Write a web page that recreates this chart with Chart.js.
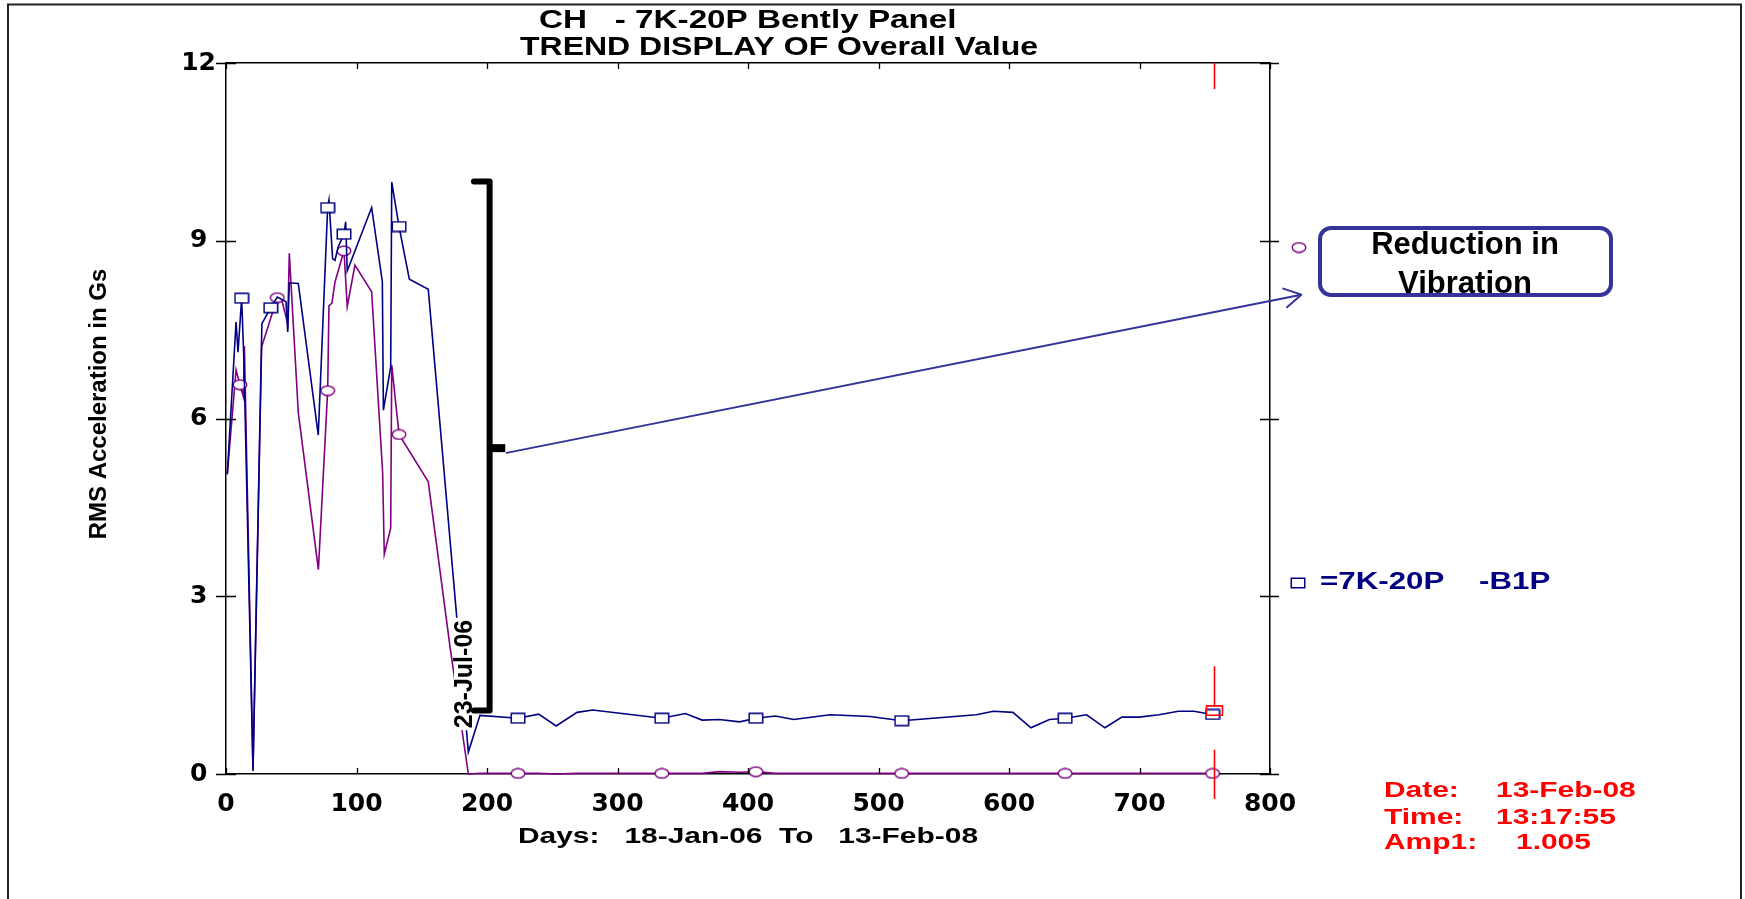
<!DOCTYPE html>
<html>
<head>
<meta charset="utf-8">
<title>CH - 7K-20P Bently Panel</title>
<script src="https://cdn.jsdelivr.net/npm/chart.js@4.4.1/dist/chart.umd.min.js"></script>
<style>
html, body { margin: 0; padding: 0; background: #fff; overflow: hidden; }
canvas { display: block; }
</style>
</head>
<body>
<canvas id="trend" width="1745" height="899"></canvas>
<script>
// valores (dias desde 18-Jan-06, aceleracion RMS en G)
var navyDays = [1, 7.7, 9.2, 12, 13.8, 20.7, 27.5, 34.3, 39.3, 46, 47.3, 48.5, 55.4, 70.7, 77.9,
    78.9, 81.7, 83.5, 86, 90.4, 91.7, 92.9, 111.6, 119.8, 120.6, 126.2, 127, 132.6, 140.5, 155,
    177, 185.7, 194.6, 223.8, 239.6, 253, 269, 281, 334, 352, 364.8, 378, 393.6, 406, 421,
    435, 463, 493.6, 517.8, 575, 588, 603, 616.8, 631, 643, 659.5, 673.5, 686.5, 699.7, 715,
    729.8, 741.7, 756];
var navyVals = [5.06, 7.63, 7.12, 8.03, 6.93, 0.05, 7.6, 7.87, 8.05, 7.97, 7.46, 8.29, 8.28, 5.72, 9.56,
    9.69, 8.70, 8.67, 8.9, 9.11, 9.32, 8.49, 9.56, 8.31, 6.14, 6.87, 9.99, 9.24, 8.35, 8.18,
    2.6, 0.37, 0.99, 0.94, 1.01, 0.81, 1.04, 1.08, 0.94, 1.02, 0.91, 0.92, 0.88, 0.94, 0.98,
    0.92, 1.0, 0.97, 0.90, 1.0, 1.06, 1.04, 0.78, 0.92, 0.94, 1.0, 0.78, 0.96, 0.96, 1.0,
    1.06, 1.06, 1.005];
var navyMarks = [12, 34.3, 77.9, 90.4, 132.6, 223.8, 334, 406, 517.8, 643, 756];

var purpleDays = [1, 7.7, 10.7, 13.3, 14.1, 20.7, 27.3, 39.3, 43, 47.3, 48.5, 55.4, 70.8, 77.9, 78.9,
    81.2, 83.5, 90.4, 92.9, 98.8, 111.6, 120, 121.3, 126.2, 127, 132.6, 155, 171.7, 185.7, 194.6,
    223.8, 239.6, 253, 269, 281, 334, 352, 364.8, 378, 393.6, 406, 421, 435, 463, 493.6,
    517.8, 575, 588, 603, 616.8, 631, 643, 659.5, 673.5, 686.5, 699.7, 715, 729.8, 741.7, 756];
var purpleVals = [5.06, 6.82, 6.57, 6.37, 7.22, 0.07, 7.21, 8.04, 7.98, 7.6, 8.79, 6.1, 3.45, 6.47, 7.9,
    7.95, 8.3, 8.83, 7.89, 8.59, 8.14, 5.1, 3.71, 4.15, 6.9, 5.73, 4.93, 2.14, 0.0, 0.01,
    0.01, 0.01, 0.0, 0.01, 0.01, 0.01, 0.01, 0.01, 0.04, 0.03, 0.04, 0.01, 0.01, 0.01, 0.01,
    0.01, 0.01, 0.01, 0.01, 0.01, 0.01, 0.01, 0.01, 0.01, 0.01, 0.01, 0.01, 0.01, 0.01, 0.01];
var purpleMarks = [10.7, 39.3, 77.9, 90.4, 132.6, 223.8, 334, 406, 517.8, 643, 756];

var dayTicks = [0, 100, 200, 300, 400, 500, 600, 700, 800];
var ampTicks = [0, 3, 6, 9, 12];

var titleLines = ['CH   - 7K-20P Bently Panel', 'TREND DISPLAY OF Overall Value'];
var xTitle = 'Days:   18-Jan-06  To   13-Feb-08';
var yTitle = 'RMS Acceleration in Gs';
var legendText = '=7K-20P    -B1P';
var eventLabel = '23-Jul-06';
var cursorDay = 757;
var cursorInfo = [['Date:', '13-Feb-08'], ['Time:', '13:17:55'], ['Amp1:', '1.005']];

var NAVY = '#000080', PURPLE = '#800080', ARROW = '#333399';
var ARIAL = '"Liberation Sans", Arial, sans-serif';
var WIDE = 'DejaVu Sans';

// marcadores huecos (el original los dibuja algo anchos)
function squareMark(color) {
    var c = document.createElement('canvas');
    c.width = 16; c.height = 12;
    var g = c.getContext('2d');
    g.fillStyle = '#fff'; g.fillRect(1, 1, 14, 10);
    g.strokeStyle = color; g.lineWidth = 1.5; g.strokeRect(1.25, 1.25, 13.5, 9.5);
    return c;
}
function circleMark(color) {
    var c = document.createElement('canvas');
    c.width = 16; c.height = 12;
    var g = c.getContext('2d');
    g.beginPath(); g.ellipse(8, 6, 6.8, 4.8, 0, 0, Math.PI * 2);
    g.fillStyle = '#fff'; g.fill();
    g.strokeStyle = color; g.lineWidth = 1.4; g.stroke();
    return c;
}
var sq = squareMark(NAVY), circ = circleMark(PURPLE);

function pts(days, vals) {
    return days.map(function (d, i) { return { x: d, y: vals[i] }; });
}

// texto ensanchado horizontalmente
function wideText(ctx, str, x, y, size, color, sx, align) {
    ctx.save();
    ctx.font = 'bold ' + size + 'px ' + ARIAL;
    ctx.fillStyle = color;
    ctx.textBaseline = 'middle';
    ctx.textAlign = align || 'left';
    ctx.translate(x, y);
    ctx.scale(sx, 1);
    ctx.fillText(str, 0, 0);
    ctx.restore();
}

var tickMarks = {
    id: 'tickMarks',
    afterDraw: function (chart) {
        var ctx = chart.ctx, a = chart.chartArea, s = chart.scales;
        ctx.save();
        ctx.strokeStyle = '#000';
        ctx.lineWidth = 1.3;
        ctx.beginPath();
        s.y.ticks.forEach(function (t) {
            var py = Math.round(s.y.getPixelForValue(t.value)) + 0.5;
            ctx.moveTo(a.left - 10, py); ctx.lineTo(a.left + 10, py);
            ctx.moveTo(a.right - 10, py); ctx.lineTo(a.right + 9, py);
        });
        s.x.ticks.forEach(function (t) {
            var px = Math.round(s.x.getPixelForValue(t.value)) + 0.5;
            ctx.moveTo(px, a.bottom); ctx.lineTo(px, a.bottom - 6);
            ctx.moveTo(px, a.top); ctx.lineTo(px, a.top + 6);
        });
        ctx.stroke();
        ctx.restore();
    }
};

var notes = {
    id: 'notes',
    afterDatasetsDraw: function (chart) {
        var ctx = chart.ctx, sx = chart.scales.x, sy = chart.scales.y;
        function X(d) { return sx.getPixelForValue(d); }
        function Y(v) { return sy.getPixelForValue(v); }

        ctx.save();

        // etiqueta girada con fondo blanco
        ctx.save();
        ctx.translate(464, 674);
        ctx.rotate(-Math.PI / 2);
        ctx.font = 'bold 25px ' + ARIAL;
        var w = ctx.measureText(eventLabel).width;
        ctx.fillStyle = '#fff';
        ctx.fillRect(-w / 2 - 2, -10, w + 4, 20);
        ctx.fillStyle = '#000';
        ctx.textAlign = 'center';
        ctx.textBaseline = 'middle';
        ctx.fillText(eventLabel, 0, 1);
        ctx.restore();

        // corchete
        var xb = X(202), xl = X(190), top = Y(10.0), bot = Y(1.07), ym = Y(5.5);
        ctx.strokeStyle = '#000';
        ctx.lineJoin = 'round';
        ctx.lineCap = 'round';
        ctx.lineWidth = 6;
        ctx.beginPath();
        ctx.moveTo(xl, top); ctx.lineTo(xb, top); ctx.lineTo(xb, bot); ctx.lineTo(xl, bot);
        ctx.stroke();
        ctx.lineWidth = 8;
        ctx.lineCap = 'butt';
        ctx.beginPath();
        ctx.moveTo(xb, ym); ctx.lineTo(X(214), ym);
        ctx.stroke();

        // flecha
        var x1 = X(215), y1 = Y(5.42), x2 = X(824), y2 = Y(8.09);
        var ang = Math.atan2(y2 - y1, x2 - x1), L = 19, phi = 0.52;
        ctx.strokeStyle = ARROW;
        ctx.lineWidth = 2;
        ctx.lineCap = 'round';
        ctx.beginPath();
        ctx.moveTo(x1, y1); ctx.lineTo(x2, y2);
        ctx.moveTo(x2 - L * Math.cos(ang - phi), y2 - L * Math.sin(ang - phi));
        ctx.lineTo(x2, y2);
        ctx.lineTo(x2 - L * Math.cos(ang + phi), y2 - L * Math.sin(ang + phi));
        ctx.stroke();

        // cursor rojo
        var cx = Math.round(X(cursorDay)) + 0.5;
        ctx.strokeStyle = '#ff0000';
        ctx.lineWidth = 1.6;
        ctx.lineCap = 'butt';
        ctx.beginPath();
        ctx.moveTo(cx, Y(12)); ctx.lineTo(cx, Y(11.56));
        ctx.moveTo(cx, Y(1.82)); ctx.lineTo(cx, Y(1.14));
        ctx.moveTo(cx, Y(0.41)); ctx.lineTo(cx, Y(-0.42));
        ctx.stroke();
        ctx.strokeRect(cx - 8, Y(1.07) - 4.7, 16, 9.4);

        ctx.restore();
    },
    afterDraw: function (chart) {
        var ctx = chart.ctx;
        ctx.save();

        // marco exterior
        ctx.strokeStyle = '#222';
        ctx.lineWidth = 2;
        ctx.strokeRect(8, 4.5, 1733, 1000);

        // titulos
        wideText(ctx, titleLines[0], 539, 21, 25, '#000', 1.33);
        wideText(ctx, titleLines[1], 520, 48, 25, '#000', 1.28);
        wideText(ctx, xTitle, 748, 837, 22, '#000', 1.36, 'center');

        // titulo eje Y
        ctx.save();
        ctx.translate(99, 404);
        ctx.rotate(-Math.PI / 2);
        ctx.font = 'bold 24px ' + ARIAL;
        ctx.fillStyle = '#000';
        ctx.textAlign = 'center';
        ctx.textBaseline = 'middle';
        ctx.fillText(yTitle, 0, 0);
        ctx.restore();

        // leyenda
        ctx.drawImage(circ, 1299 - circ.width / 2, 247.5 - circ.height / 2);
        ctx.drawImage(sq, 1298 - sq.width / 2, 583 - sq.height / 2);
        wideText(ctx, legendText, 1320, 583, 23, NAVY, 1.36);

        // recuadro "Reduction in Vibration"
        var bx = 1320, by = 228, bw = 291, bh = 67, r = 11;
        ctx.beginPath();
        ctx.moveTo(bx + r, by);
        ctx.arcTo(bx + bw, by, bx + bw, by + bh, r);
        ctx.arcTo(bx + bw, by + bh, bx, by + bh, r);
        ctx.arcTo(bx, by + bh, bx, by, r);
        ctx.arcTo(bx, by, bx + bw, by, r);
        ctx.closePath();
        ctx.fillStyle = '#fff';
        ctx.fill();
        ctx.strokeStyle = ARROW;
        ctx.lineWidth = 4;
        ctx.stroke();
        ctx.font = 'bold 31px ' + ARIAL;
        ctx.fillStyle = '#000';
        ctx.textAlign = 'center';
        ctx.textBaseline = 'alphabetic';
        ctx.fillText('Reduction in', 1465, 254);
        ctx.fillText('Vibration', 1465, 293);

        // datos del cursor
        var rows = [791, 818, 843];
        var valX = [1496, 1496, 1516];
        cursorInfo.forEach(function (row, i) {
            wideText(ctx, row[0], 1384, rows[i], 22, '#ff0000', 1.36);
            wideText(ctx, row[1], valX[i], rows[i], 22, '#ff0000', 1.36);
        });

        ctx.restore();
    }
};

var ctx = document.getElementById('trend').getContext('2d');
var chart = new Chart(ctx, {
    type: 'line',
    data: {
        datasets: [{
            label: legendText,
            data: pts(navyDays, navyVals),
            borderColor: NAVY,
            backgroundColor: NAVY,
            borderWidth: 1.6,
            tension: 0,
            clip: false,
            pointStyle: sq,
            pointRadius: function (c) { return c.raw && navyMarks.indexOf(c.raw.x) >= 0 ? 6 : 0; }
        }, {
            label: 'purple',
            data: pts(purpleDays, purpleVals),
            borderColor: PURPLE,
            backgroundColor: PURPLE,
            borderWidth: 1.6,
            tension: 0,
            clip: false,
            pointStyle: circ,
            pointRadius: function (c) { return c.raw && purpleMarks.indexOf(c.raw.x) >= 0 ? 6 : 0; }
        }]
    },
    options: {
        responsive: false,
        animation: false,
        devicePixelRatio: 1,
        events: [],
        layout: { padding: { left: 0, right: 475, top: 63, bottom: 0 } },
        plugins: { legend: { display: false }, tooltip: { enabled: false }, title: { display: false } },
        scales: {
            x: {
                type: 'linear', position: 'bottom', min: 0, max: 800,
                afterBuildTicks: function (s) { s.ticks = dayTicks.map(function (v) { return { value: v }; }); },
                ticks: { font: { family: WIDE, weight: 'bold', size: 25 }, color: '#000', padding: 15, maxRotation: 0, autoSkip: false },
                grid: { display: false, drawTicks: false },
                border: { display: true, color: '#000', width: 1.5 },
                afterFit: function (s) { s.height = 125; }
            },
            x2: {
                type: 'linear', position: 'top', min: 0, max: 800,
                ticks: { display: false },
                grid: { display: false, drawTicks: false },
                border: { display: true, color: '#000', width: 1.5 },
                afterFit: function (s) { s.height = 0; }
            },
            y: {
                type: 'linear', position: 'left', min: 0, max: 12,
                afterBuildTicks: function (s) { s.ticks = ampTicks.map(function (v) { return { value: v }; }); },
                ticks: { font: { family: WIDE, weight: 'bold', size: 25 }, color: '#000', padding: 10, crossAlign: 'center' },
                grid: { display: false, drawTicks: false },
                border: { display: true, color: '#000', width: 1.5 },
                afterFit: function (s) { s.width = 226; }
            },
            y2: {
                type: 'linear', position: 'right', min: 0, max: 12,
                afterBuildTicks: function (s) { s.ticks = ampTicks.map(function (v) { return { value: v }; }); },
                ticks: { display: false },
                grid: { display: false, drawTicks: false },
                border: { display: true, color: '#000', width: 1.5 },
                afterFit: function (s) { s.width = 0; }
            }
        }
    },
    plugins: [tickMarks, notes]
});
</script>
</body>
</html>
